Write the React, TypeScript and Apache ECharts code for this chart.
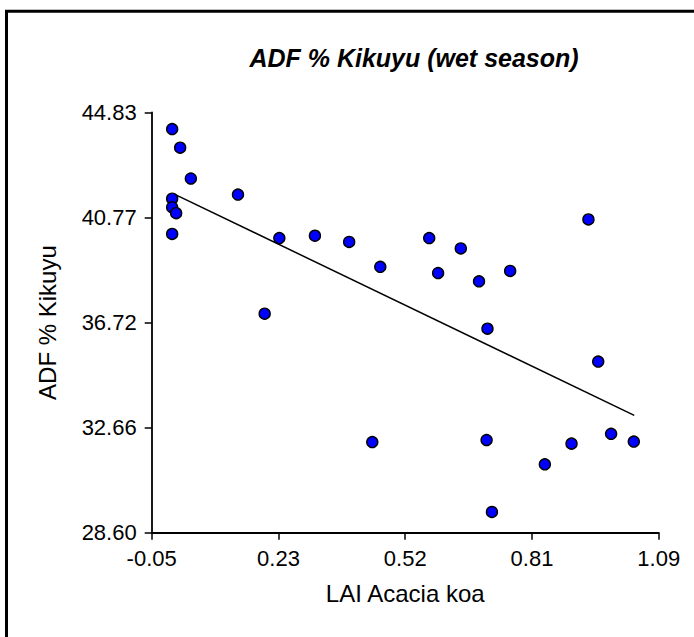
import React, { useEffect, useRef } from "react";
import * as echarts from "echarts";

// Data
const laiValues = [
  -0.004, 0.014, 0.038, 0.144, -0.004, -0.004, 0.005, -0.004, 0.237, 0.317,
  0.394, 0.464, 0.574, 0.645, 0.594, 0.686, 0.756, 0.932, 0.204, 0.705,
  0.954, 0.446, 0.703, 0.983, 0.894, 1.034, 0.834, 0.715,
];
const adfValues = [
  44.19, 43.47, 42.28, 41.66, 41.5, 41.17, 40.94, 40.14, 39.98, 40.07,
  39.83, 38.87, 39.98, 39.58, 38.63, 38.31, 38.71, 40.7, 37.06, 36.48,
  35.21, 32.1, 32.18, 32.42, 32.04, 32.12, 31.24, 29.4,
];
const fitLineX = [0.002, 1.035];
const fitLineY = [41.67, 33.13];

const xTickLabels = ["-0.05", "0.23", "0.52", "0.81", "1.09"];
const yTickLabels = ["28.60", "32.66", "36.72", "40.77", "44.83"];
const xMin = -0.05;
const xMax = 1.09;
const yMin = 28.6;
const yMax = 44.83;

const titleText = "ADF % Kikuyu (wet season)";
const xName = "LAI Acacia koa";
const yName = "ADF % Kikuyu";

const FONT = "'Liberation Sans', Arial, sans-serif";

export default function App() {
  const ref = useRef<HTMLDivElement>(null);

  useEffect(() => {
    if (!ref.current) return;
    const chart = echarts.init(ref.current, null, { renderer: "svg" });

    const xPos = xTickLabels.map((_, i) => xMin + (i * (xMax - xMin)) / (xTickLabels.length - 1));
    const yPos = yTickLabels.map((_, i) => yMin + (i * (yMax - yMin)) / (yTickLabels.length - 1));
    const fmt = (pos: number[], labels: string[]) => (v: number) => {
      let best = 0;
      for (let i = 1; i < pos.length; i++) {
        if (Math.abs(pos[i] - v) < Math.abs(pos[best] - v)) best = i;
      }
      return labels[best];
    };

    const points = laiValues.map((x, i) => [x, adfValues[i]]);
    const linePts = fitLineX.map((x, i) => [x, fitLineY[i]]);

    chart.setOption({
      animation: false,
      backgroundColor: "#ffffff",
      textStyle: { fontFamily: FONT },
      title: {
        text: titleText,
        left: 409,
        top: 40,
        textAlign: "center",
        textStyle: {
          fontFamily: FONT,
          fontSize: 25,
          fontWeight: "bold",
          fontStyle: "italic",
          color: "#000",
        },
      },
      graphic: [
        {
          type: "rect",
          shape: { x: 6.5, y: 11.3, width: 900, height: 900 },
          style: { fill: "none", stroke: "#000", lineWidth: 3 },
          silent: true,
        },
      ],
      grid: { left: 151.7, right: 35.3, top: 112.5, bottom: 104.3, containLabel: false },
      xAxis: {
        type: "value",
        min: xMin,
        max: xMax,
        name: xName,
        nameLocation: "middle",
        nameGap: 49,
        nameTextStyle: { fontFamily: FONT, fontSize: 24, color: "#000" },
        splitLine: { show: false },
        axisLine: { show: true, onZero: false, lineStyle: { color: "#000", width: 2 } },
        axisTick: {
          show: true,
          customValues: xPos,
          length: 7,
          lineStyle: { color: "#000", width: 1.5 },
        },
        axisLabel: {
          customValues: xPos,
          formatter: fmt(xPos, xTickLabels),
          margin: 15,
          fontFamily: FONT,
          fontSize: 22,
          color: "#000",
        },
      },
      yAxis: {
        type: "value",
        min: yMin,
        max: yMax,
        name: yName,
        nameLocation: "middle",
        nameRotate: 90,
        nameGap: 92,
        nameTextStyle: { fontFamily: FONT, fontSize: 24, color: "#000" },
        splitLine: { show: false },
        axisLine: { show: true, onZero: false, lineStyle: { color: "#000", width: 1.8 } },
        axisTick: {
          show: true,
          customValues: yPos,
          length: 7,
          lineStyle: { color: "#000", width: 1.5 },
        },
        axisLabel: {
          customValues: yPos,
          formatter: fmt(yPos, yTickLabels),
          margin: 15,
          fontFamily: FONT,
          fontSize: 22,
          color: "#000",
        },
      },
      series: [
        {
          type: "line",
          data: linePts,
          showSymbol: false,
          symbol: "none",
          lineStyle: { color: "#000", width: 1.5 },
          z: 2,
        },
        {
          type: "scatter",
          data: points,
          symbol: "circle",
          symbolSize: 11,
          itemStyle: { color: "#0000ff", borderColor: "#000", borderWidth: 1.4, opacity: 1 },
          z: 3,
        },
      ],
    });

    return () => {
      chart.dispose();
    };
  }, []);

  return (
    <div
      ref={ref}
      style={{ position: "absolute", left: 0, top: 0, width: 694, height: 637 }}
    />
  );
}
